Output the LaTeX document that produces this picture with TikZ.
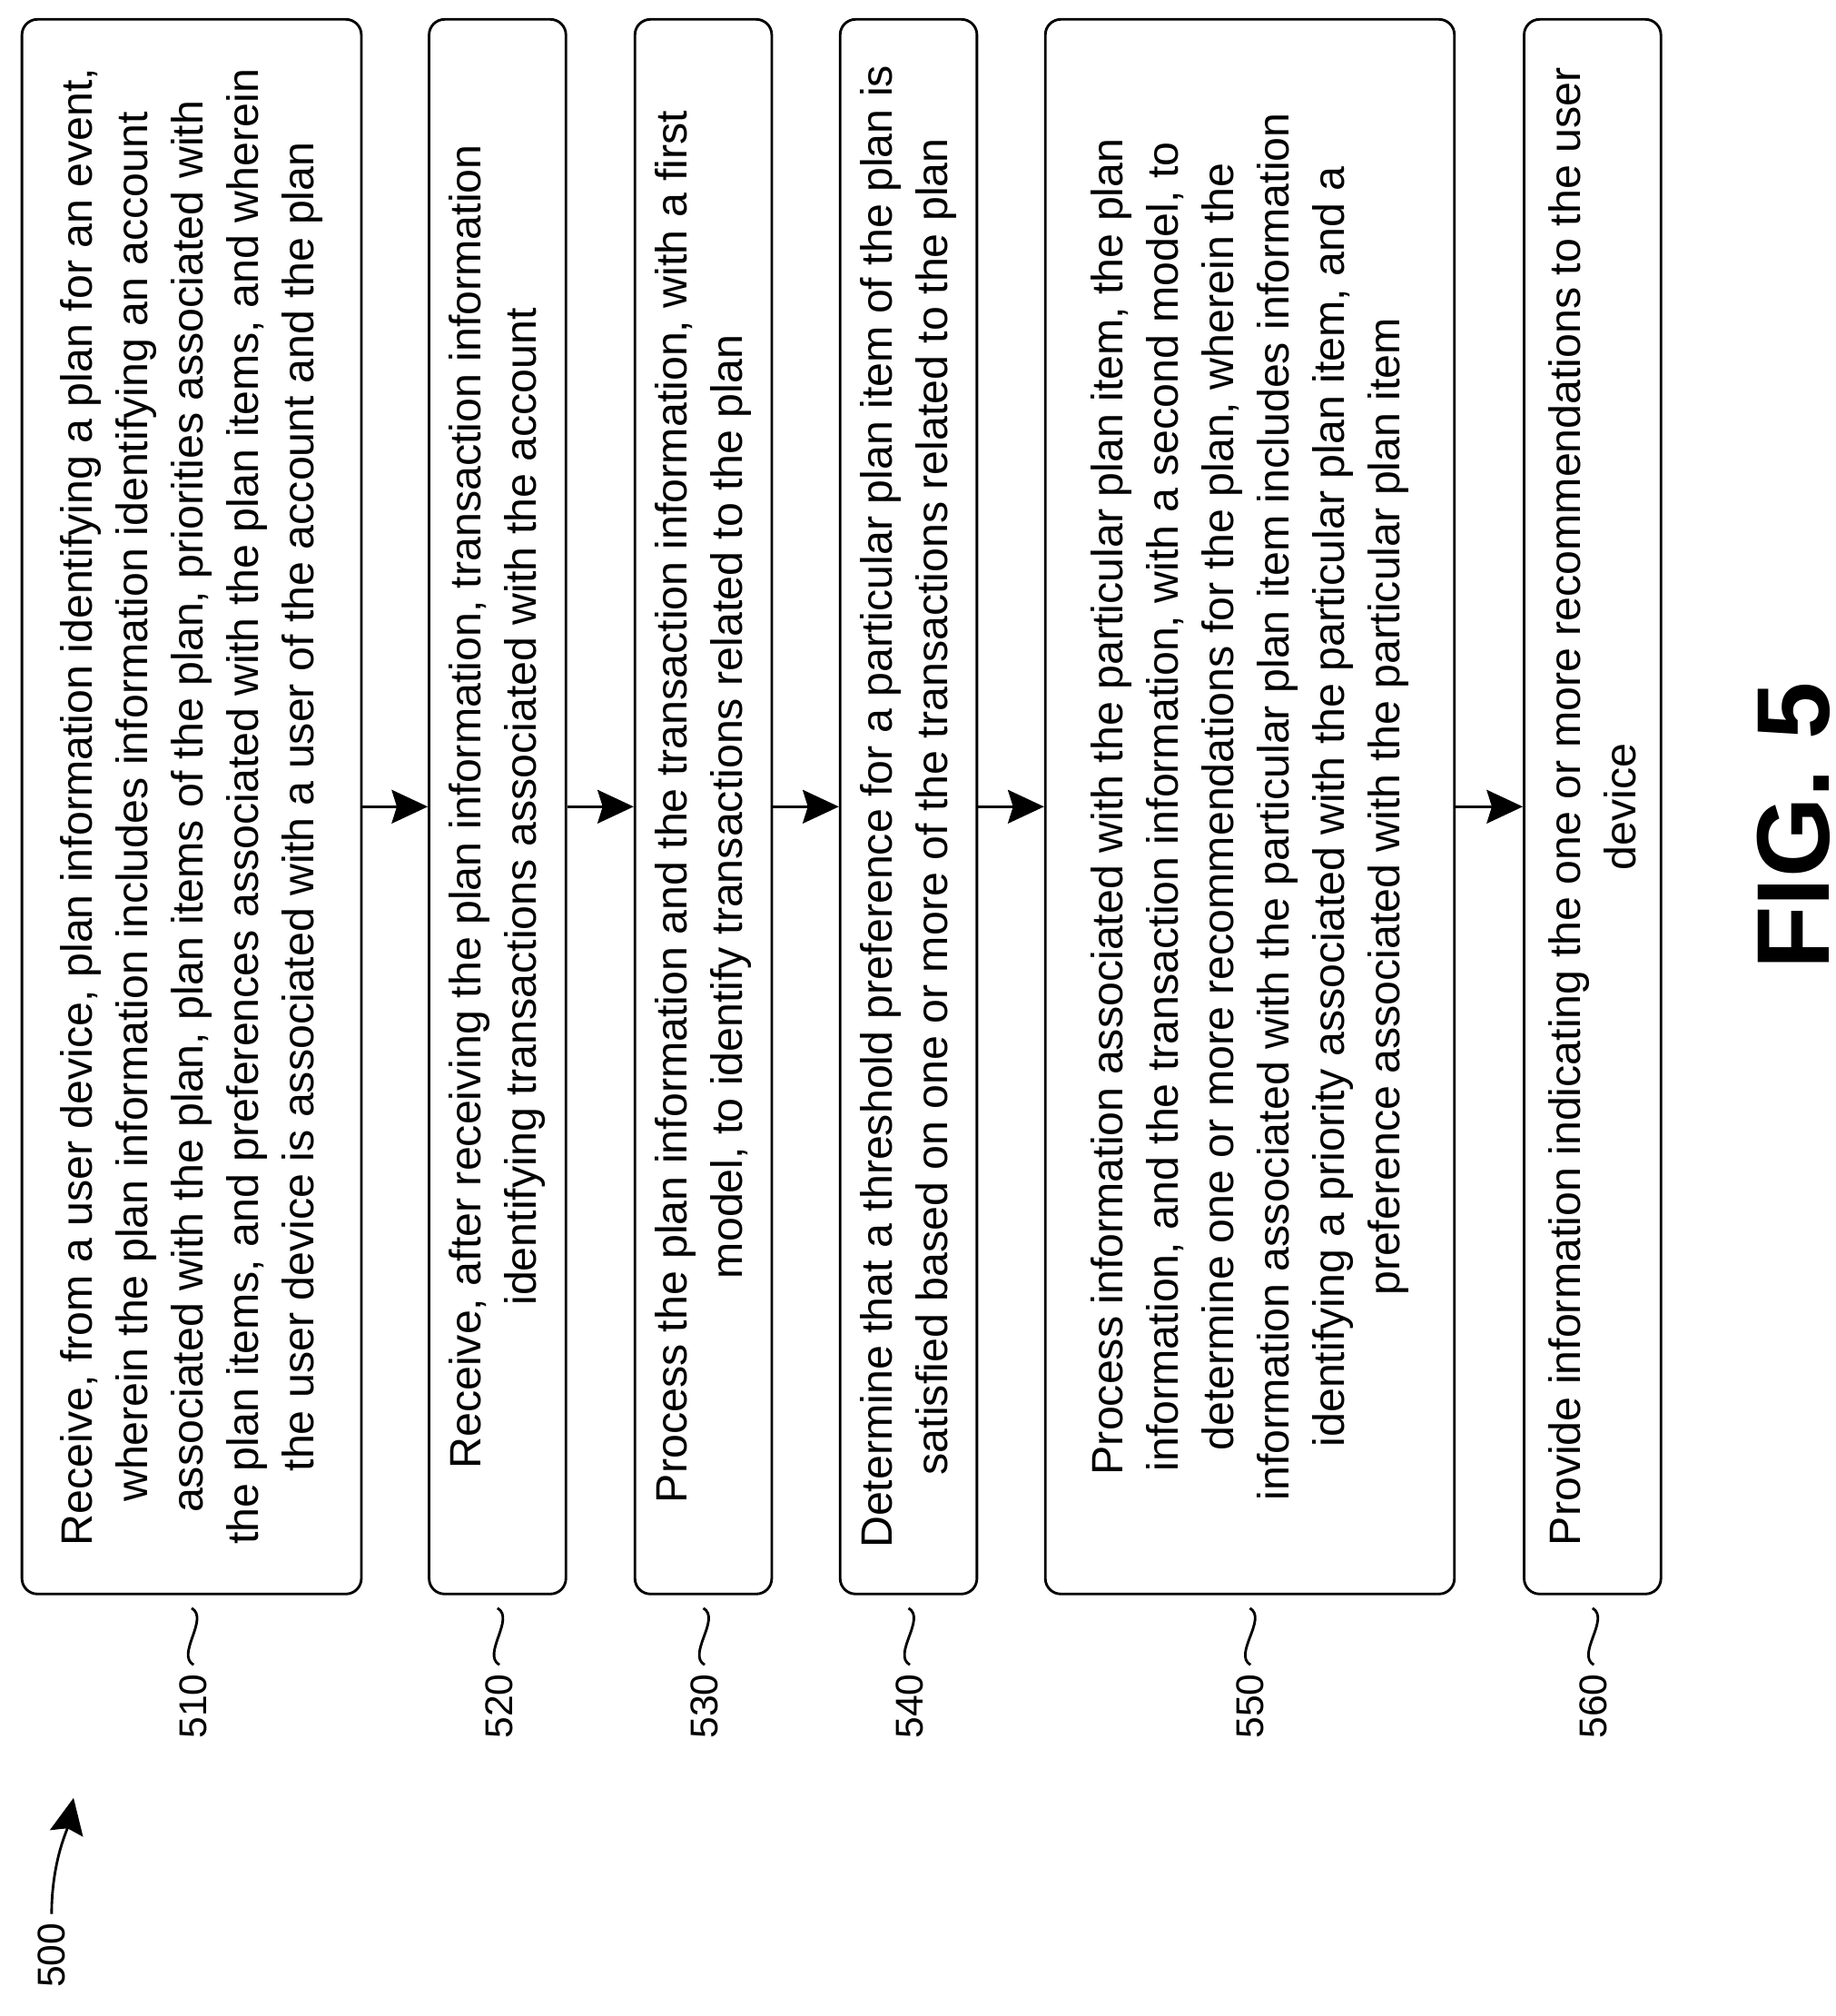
\documentclass[tikz,border=0pt]{standalone}
\usepackage{fontspec}
\setmainfont{Liberation Sans}
\usetikzlibrary{arrows.meta}
\tikzset{%
  stepbox/.style = {shape=rectangle, rounded corners=6pt, draw, line width=1pt,
                    rotate=90, align=center, minimum width=610pt,
                    font=\fontsize{17}{21.5}\selectfont},%
  steplabel/.style = {rotate=90, font=\fontsize{15}{18}\selectfont},%
  flow/.style = {-{Stealth[length=14pt,width=13pt,inset=2pt]}, line width=1pt},%
  squiggle/.style = {line width=1pt}%
}
\begin{document}
\begin{tikzpicture}[x=0.5pt,y=-0.5pt]
	\useasboundingbox (0,0) rectangle (1422,1562);
	% steps
	\node [stepbox, minimum height=131.5pt] (b510) at (148.5,625)
	{Receive, from a user device, plan information identifying a plan for an event,\\
	wherein the plan information includes information identifying an account\\
	associated with the plan, plan items of the plan, priorities associated with\\
	the plan items, and preferences associated with the plan items, and wherein\\
	the user device is associated with a user of the account and the plan};
	\node [stepbox, minimum height=53pt] (b520) at (385.5,625)
	{Receive, after receiving the plan information, transaction information\\
	identifying transactions associated with the account};
	\node [stepbox, minimum height=53pt] (b530) at (545,625)
	{Process the plan information and the transaction information, with a first\\
	model, to identify transactions related to the plan};
	\node [stepbox, minimum height=53pt] (b540) at (704,625)
	{Determine that a threshold preference for a particular plan item of the plan is\\
	satisfied based on one or more of the transactions related to the plan};
	\node [stepbox, minimum height=158.5pt] (b550) at (968.5,625)
	{Process information associated with the particular plan item, the plan\\
	information, and the transaction information, with a second model, to\\
	determine one or more recommendations for the plan, wherein the\\
	information associated with the particular plan item includes information\\
	identifying a priority associated with the particular plan item, and a\\
	preference associated with the particular plan item};
	\node [stepbox, minimum height=53pt] (b560) at (1234,625)
	{Provide information indicating the one or more recommendations to the user\\
	device};
	% arrows between steps
	\foreach \a/\b in {510/520,520/530,530/540,540/550,550/560}
		\draw [flow] (b\a.south) -- (b\b.north);
	% reference numerals
	\foreach \n/\x in {510/150,520/387,530/546,540/705,550/969,560/1235} {
		\node [steplabel] (l\n) at (\x,1322) {\n};
		\draw [squiggle] (l\n.east) .. controls +(-14,-8) and +(14,8) .. ([yshift=-5pt]b\n.west);
	}
	\node [steplabel] (l500) at (40,1515) {500};
	\coordinate (c500) at (57,1393);
	\draw [flow] (l500.east) .. controls +(0,-40) and +(-5,25) .. (c500);
	\node [rotate=90, font=\bfseries\fontsize{40}{44}\selectfont] (fig) at (1390,640) {FIG. 5};
\end{tikzpicture}
\end{document}
